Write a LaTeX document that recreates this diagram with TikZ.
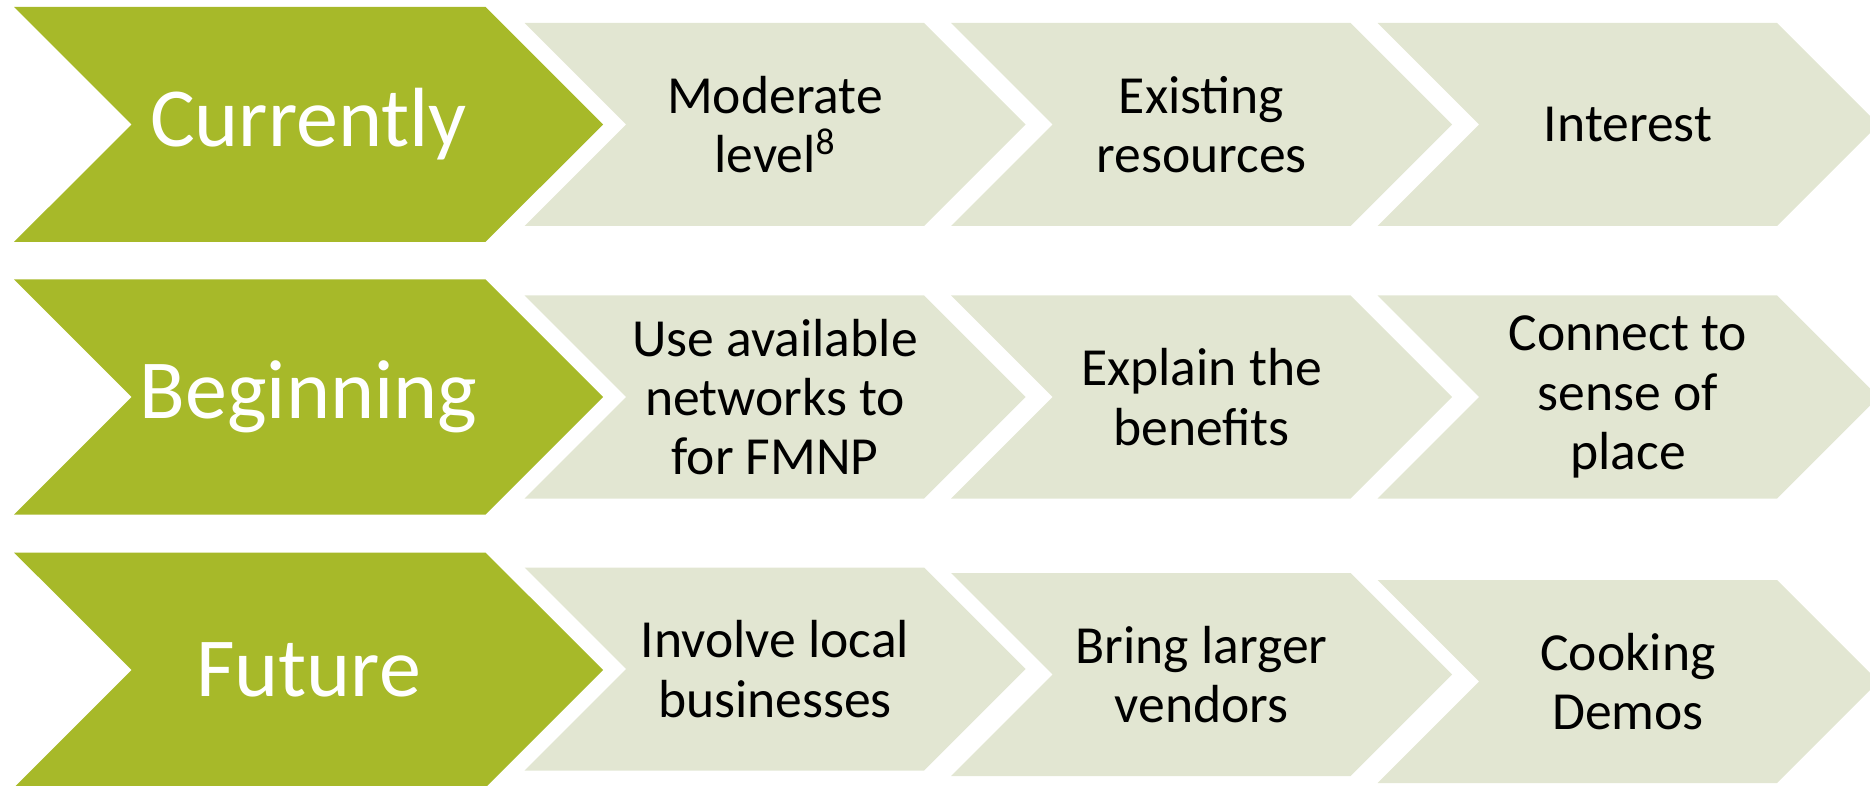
\documentclass[tikz,border=0pt]{standalone}
\usepackage{fontspec}
\setmainfont{Carlito}
\usepackage{tikz}
\usetikzlibrary{shapes.symbols}
\definecolor{stagegreen}{RGB}{167,185,41}
\definecolor{stepbeige}{RGB}{226,230,210}

\begin{document}
\begin{tikzpicture}[x=0.5pt, y=-0.5pt, arrowbox/.style={signal, signal to=east, signal from=west, signal pointer angle=90, inner sep=0pt, align=center}, stage/.style={arrowbox, fill=stagegreen, text=white, minimum width=294.5pt, minimum height=117.5pt, font=\fontsize{42}{45}\selectfont}, item/.style={arrowbox, fill=stepbeige, minimum width=250.5pt, minimum height=101.5pt, font=\fontsize{26.8}{29.6}\selectfont}]
            \useasboundingbox (0,0) rectangle (1870,786);
            % first row
            \node[stage] (cur) at (308.5,124.5) {Currently};
            \node[item] (cur1) at (775,124.5) {Moderate\\level\textsuperscript{8}};
            \node[item] (cur2) at (1201.5,124.5) {Existing\\resources};
            \node[item] (cur3) at (1628,124.5) {Interest};
            % second row
            \node[stage] (beg) at (308.5,397) {Beginning};
            \node[item] (beg1) at (775,397) {Use available\\networks to\\for FMNP};
            \node[item] (beg2) at (1201.5,397) {Explain the\\benefits};
            \node[item] (beg3) at (1628,397) {Connect to\\sense of\\place};
            % third row
            \node[stage] (fut) at (308.5,670) {Future};
            \node[item] (fut1) at (775,669) {Involve local\\businesses};
            \node[item] (fut2) at (1201.5,674.5) {Bring larger\\vendors};
            \node[item] (fut3) at (1628,681.5) {Cooking\\Demos};
        \end{tikzpicture}
\end{document}
